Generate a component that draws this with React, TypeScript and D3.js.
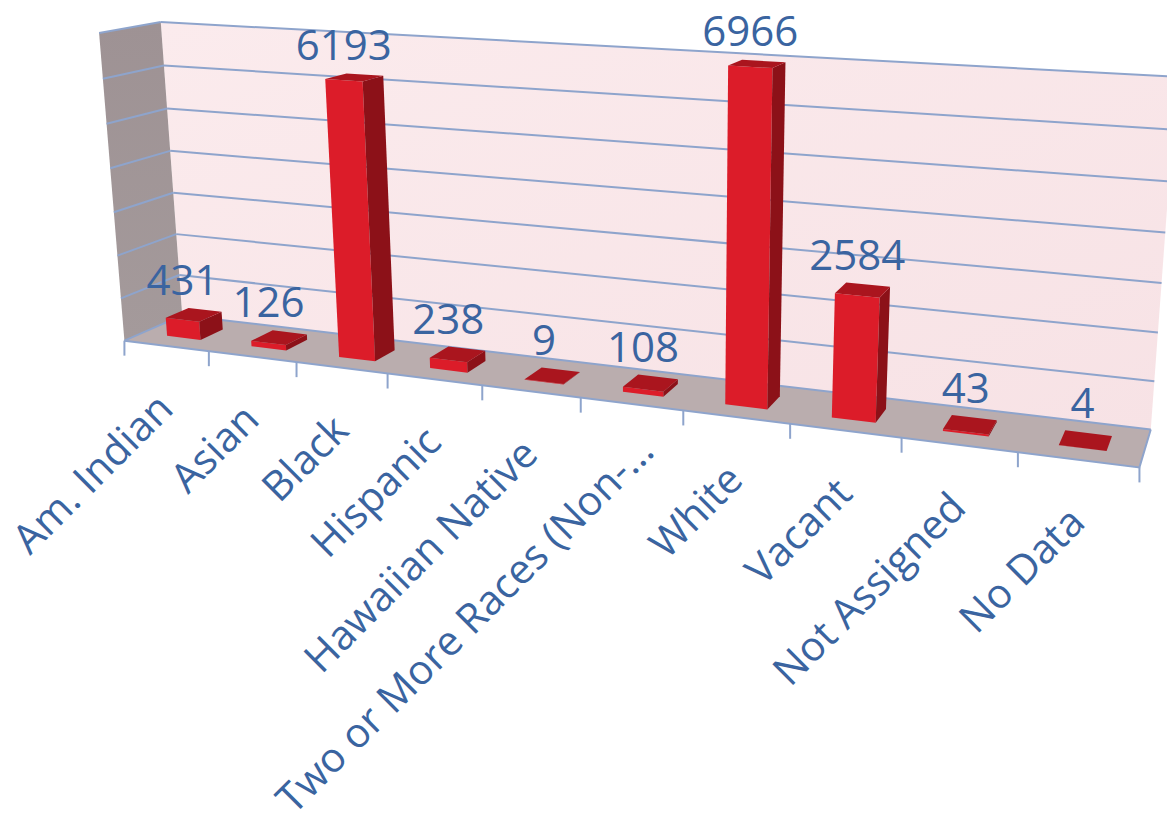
import React from "react";
import * as d3 from "d3";

const categories = [
  "Am. Indian",
  "Asian",
  "Black",
  "Hispanic",
  "Hawaiian Native",
  "Two or More Races (Non-…",
  "White",
  "Vacant",
  "Not Assigned",
  "No Data",
];
const counts = [431, 126, 6193, 238, 9, 108, 6966, 2584, 43, 4];
const valueTicks = [0, 1000, 2000, 3000, 4000, 5000, 6000, 7000];

// where the corners of the 3D plot box land on the page
// [category boundary, value, depth (0 front, 1 back), screen x, screen y]
const frameCalibration: number[][] = [
  [0, 0, 0, 125, 340],
  [2, 0, 0, 297, 362],
  [5, 0, 0, 580, 398],
  [8, 0, 0, 901, 438],
  [10, 0, 0, 1140, 468],
  [0, 7000, 0, 99, 33],
  [0, 4000, 0, 110, 168],
  [0, 0, 1, 182, 317],
  [10, 0, 1, 1151, 428],
  [0, 7000, 1, 161, 22],
  [0, 4000, 1, 170, 150],
  [10, 7000, 1, 1177, 78],
  [10, 4000, 1, 1165, 232],
];

const width = 1167;
const height = 815;
const textColor = "#3A64A0";
const gridColor = "#8EA4CC";
const font = "'Open Sans', sans-serif";

const xPos = d3.scaleLinear().domain([0, categories.length]).range([0, 1]);
const yPos = d3.scaleLinear().domain([0, 7000]).range([0, 1]);
const band = d3
  .scaleBand<string>()
  .domain(categories)
  .range([0, 1])
  .paddingInner(0.6)
  .paddingOuter(0.3);
const depth = d3.scaleBand<string>().domain(["count"]).range([0, 1]).paddingInner(0.6).paddingOuter(0.3);

// solve the 3x4 camera matrix (DLT) from the calibration points
function fitCamera(points: number[][]): number[] {
  const n = 11;
  const M = Array.from({ length: n }, () => new Array(n + 1).fill(0));
  const addRow = (row: number[], rhs: number) => {
    for (let i = 0; i < n; i++) {
      for (let j = 0; j < n; j++) M[i][j] += row[i] * row[j];
      M[i][n] += row[i] * rhs;
    }
  };
  points.forEach(([c, v, z, sx, sy]) => {
    const x = xPos(c), y = yPos(v), u = sx / 1000, w = sy / 1000;
    addRow([x, y, z, 1, 0, 0, 0, 0, -u * x, -u * y, -u * z], u);
    addRow([0, 0, 0, 0, x, y, z, 1, -w * x, -w * y, -w * z], w);
  });
  for (let c = 0; c < n; c++) {
    let p = c;
    for (let r = c + 1; r < n; r++) if (Math.abs(M[r][c]) > Math.abs(M[p][c])) p = r;
    [M[c], M[p]] = [M[p], M[c]];
    for (let r = 0; r < n; r++) {
      if (r === c) continue;
      const f = M[r][c] / M[c][c];
      for (let k = c; k <= n; k++) M[r][k] -= f * M[c][k];
    }
  }
  return M.map((row, i) => row[n] / row[i]);
}

const m = fitCamera(frameCalibration);
type P = [number, number, number];
const project = (x: number, y: number, z: number): P => {
  const w = m[8] * x + m[9] * y + m[10] * z + 1;
  return [
    (1000 * (m[0] * x + m[1] * y + m[2] * z + m[3])) / w,
    (1000 * (m[4] * x + m[5] * y + m[6] * z + m[7])) / w,
    w,
  ];
};
const poly = (pts: number[][]) => pts.map(([x, y, z]) => project(x, y, z));
const toPath = (pts: P[]) => d3.line()(pts.map((p) => [p[0], p[1]]))! + "Z";
const area = (pts: P[]) => d3.polygonArea(pts.map((p) => [p[0], p[1]] as [number, number]));

// winding of a face turned towards the viewer
const frontSign = Math.sign(area(poly([[0, 0, 0], [0, 1, 0], [1, 1, 0], [1, 0, 0]])));

const barColors = { front: "#DC1C29", side: "#8C1118", top: "#AA151E" };

const bars = categories
  .map((cat, i) => {
    const x0 = band(cat)!, x1 = x0 + band.bandwidth();
    const z0 = depth("count")!, z1 = z0 + depth.bandwidth();
    const h = yPos(counts[i]);
    const faces = [
      { pts: [[x0, 0, z0], [x0, h, z0], [x1, h, z0], [x1, 0, z0]], fill: barColors.front },
      { pts: [[x0, 0, z1], [x1, 0, z1], [x1, h, z1], [x0, h, z1]], fill: barColors.side },
      { pts: [[x0, 0, z0], [x0, 0, z1], [x0, h, z1], [x0, h, z0]], fill: barColors.side },
      { pts: [[x1, 0, z0], [x1, h, z0], [x1, h, z1], [x1, 0, z1]], fill: barColors.side },
      { pts: [[x0, h, z0], [x0, h, z1], [x1, h, z1], [x1, h, z0]], fill: barColors.top },
    ]
      .map((f) => ({ proj: poly(f.pts), fill: f.fill }))
      .filter((f) => Math.sign(area(f.proj)) === frontSign);
    const xc = (x0 + x1) / 2;
    const labelX = project(xc, h, z0)[0];
    const labelY = project(xc, h, z1)[1] - 15;
    const dist = project(xc, h / 2, (z0 + z1) / 2)[2];
    return { cat, value: counts[i], faces, labelX, labelY, dist };
  })
  .sort((a, b) => Math.abs(b.dist) - Math.abs(a.dist));

export default function App() {
  const floor = poly([[0, 0, 0], [1, 0, 0], [1, 0, 1], [0, 0, 1]]);
  const leftWall = poly([[0, 0, 0], [0, 0, 1], [0, 1, 1], [0, 1, 0]]);
  const backWall = poly([[0, 0, 1], [1, 0, 1], [1, 1, 1], [0, 1, 1]]);

  return (
    <svg width={width} height={height} viewBox={`0 0 ${width} ${height}`} style={{ display: "block" }}>
      <style>{`body{margin:0}`}</style>
      <defs>
        <linearGradient id="back" x1="0" y1="0" x2="1" y2="1">
          <stop offset="0" stopColor="#FBEBED" />
          <stop offset="1" stopColor="#F7E2E5" />
        </linearGradient>
        <linearGradient id="left" x1="0" y1="0" x2="0" y2="1">
          <stop offset="0" stopColor="#9E9294" />
          <stop offset="1" stopColor="#A49A9B" />
        </linearGradient>
      </defs>
      <path d={toPath(backWall)} fill="url(#back)" />
      <path d={toPath(leftWall)} fill="url(#left)" />
      <path d={toPath(floor)} fill="#BAADAE" />

      <g stroke={gridColor} strokeWidth={2} fill="none">
        {valueTicks.map((t) => {
          const y = yPos(t);
          const a = project(0, y, 1), b = project(1, y, 1), c = project(0, y, 0);
          return (
            <g key={t}>
              <line x1={a[0]} y1={a[1]} x2={b[0]} y2={b[1]} />
              <line x1={c[0]} y1={c[1]} x2={a[0]} y2={a[1]} />
            </g>
          );
        })}
        {(() => {
          const a = project(0, 0, 0), b = project(1, 0, 0), c = project(1, 0, 1);
          return <path d={`M${a[0]},${a[1]}L${b[0]},${b[1]}L${c[0]},${c[1]}`} />;
        })()}
        {d3.range(categories.length + 1).map((k) => {
          const p = project(xPos(k), 0, 0);
          return <line key={k} x1={p[0]} y1={p[1]} x2={p[0]} y2={p[1] + 15} />;
        })}
      </g>

      {bars.map((b) => (
        <g key={b.cat}>
          {b.faces.map((f, j) => (
            <path key={j} d={toPath(f.proj)} fill={f.fill} />
          ))}
        </g>
      ))}

      <g fontFamily={font} fontSize={41} fill={textColor}>
        {bars.map((b) => (
          <text key={b.cat} x={b.labelX} y={b.labelY} textAnchor="middle" fontSize={42}>
            {b.value}
          </text>
        ))}
        {categories.map((cat, i) => {
          const p = project(xPos(i + 0.5), 0, 0);
          const truncated = cat.endsWith("…");
          return (
            <text
              key={cat}
              transform={`translate(${p[0] + 9},${p[1] + 65}) rotate(-45)`}
              dx={truncated ? 22 : 0}
              textAnchor="end"
            >
              {cat}
            </text>
          );
        })}
      </g>
    </svg>
  );
}
